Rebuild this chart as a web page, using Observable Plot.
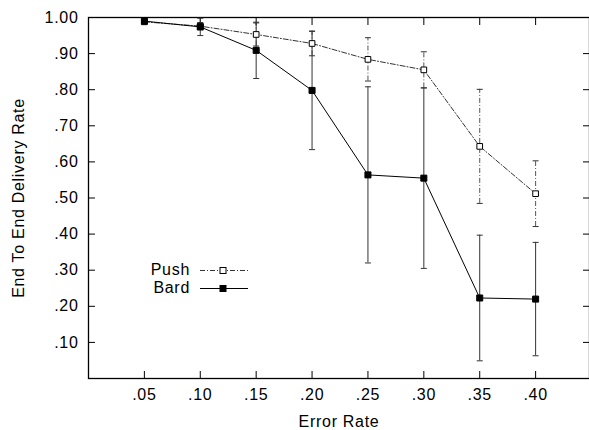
<!DOCTYPE html>
<html>
<head>
<meta charset="utf-8">
<script src="https://cdn.jsdelivr.net/npm/d3@7"></script>
<script src="https://cdn.jsdelivr.net/npm/@observablehq/plot@0.6"></script>
<style>
  html, body { margin: 0; padding: 0; background: #fff; }
  #wrap { position: relative; width: 589px; height: 430px; font-family: "Liberation Sans", Arial, Helvetica, sans-serif; }
  #legend { position: absolute; left: 0; top: 0; width: 589px; height: 430px; pointer-events: none; }
  .lg { position: absolute; left: 0; width: 190px; text-align: right; font-size: 16px; letter-spacing: 0.7px; color: #000; line-height: 18px; }
  #wrap svg text { letter-spacing: 0.7px; }
</style>
</head>
<body>
<div id="wrap"></div>
<script>
const errorRates = [0.05, 0.10, 0.15, 0.20, 0.25, 0.30, 0.35, 0.40];
const pushRate   = [0.988, 0.976, 0.953, 0.928, 0.884, 0.855, 0.643, 0.512];
const pushErr    = [0.004, 0.010, 0.032, 0.034, 0.060, 0.050, 0.158, 0.091];
const bardRate   = [0.990, 0.974, 0.909, 0.798, 0.564, 0.555, 0.223, 0.220];
const bardErr    = [0.005, 0.024, 0.078, 0.164, 0.244, 0.250, 0.174, 0.157];
const xTicks = [0.05, 0.10, 0.15, 0.20, 0.25, 0.30, 0.35, 0.40];
const yTicks = [0.10, 0.20, 0.30, 0.40, 0.50, 0.60, 0.70, 0.80, 0.90, 1.00];
const seriesNames = ["Push", "Bard"];

const push = errorRates.map((x, i) => ({x, y: pushRate[i], lo: pushRate[i] - pushErr[i], hi: pushRate[i] + pushErr[i]}));
const bard = errorRates.map((x, i) => ({x, y: bardRate[i], lo: bardRate[i] - bardErr[i], hi: bardRate[i] + bardErr[i]}));
const pushCaps = push.flatMap(d => [{x: d.x, y: d.lo}, {x: d.x, y: d.hi}]);
const bardCaps = bard.flatMap(d => [{x: d.x, y: d.lo}, {x: d.x, y: d.hi}]);

const cap = {draw(ctx) { ctx.moveTo(-3, 0); ctx.lineTo(3, 0); }};
const dashDot = "5,2,1,2";
const fmtY = d => d === 1 ? "1.00" : d3.format(".2f")(d).replace(/^0/, "");
const fmtX = d => d3.format(".2f")(d).replace(/^0/, "");
const FS = 16;

const chart = Plot.plot({
  width: 589,
  height: 430,
  marginLeft: 88,
  marginTop: 17,
  marginBottom: 52,
  marginRight: 0,
  style: {fontFamily: '"Liberation Sans", Arial, Helvetica, sans-serif', fontSize: FS + "px", color: "#000", background: "#fff", overflow: "visible"},
  x: {domain: [0, 0.45], range: [88, 591], axis: null},
  y: {domain: [0, 1], axis: null},
  marks: [
    Plot.frame({stroke: "#000", strokeWidth: 1.3}),
    // tick labels
    Plot.axisX(xTicks, {anchor: "bottom", tickSize: 0, tickPadding: 10, tickFormat: fmtX, fontSize: FS, label: null}),
    Plot.axisY(yTicks, {anchor: "left", tickSize: 0, tickPadding: 10, tickFormat: fmtY, fontSize: FS, label: null}),
    // inward ticks on all four sides
    Plot.axisX(xTicks, {anchor: "bottom", tickSize: -7, fill: "none", stroke: "#000", label: null}),
    Plot.axisX(xTicks, {anchor: "top", tickSize: -7, fill: "none", stroke: "#000", label: null}),
    Plot.axisY(yTicks, {anchor: "left", tickSize: -7, fill: "none", stroke: "#000", label: null}),
    Plot.axisY(yTicks, {anchor: "right", tickSize: -7, fill: "none", stroke: "#000", label: null}),
    // axis titles
    Plot.text(["Error Rate"], {frameAnchor: "bottom", text: d => d, dy: 48, fontSize: FS}),
    Plot.text(["End To End Delivery Rate"], {frameAnchor: "left", text: d => d, rotate: -90, textAnchor: "middle", dx: -70, fontSize: FS}),
    // error bars
    Plot.ruleX(push, {x: "x", y1: "lo", y2: "hi", stroke: "#555", strokeWidth: 1, strokeDasharray: dashDot}),
    Plot.dot(pushCaps, {x: "x", y: "y", symbol: cap, fill: "none", stroke: "#333", strokeWidth: 1}),
    Plot.ruleX(bard, {x: "x", y1: "lo", y2: "hi", stroke: "#333", strokeWidth: 1}),
    Plot.dot(bardCaps, {x: "x", y: "y", symbol: cap, fill: "none", stroke: "#333", strokeWidth: 1}),
    // lines
    Plot.line(push, {x: "x", y: "y", stroke: "#333", strokeWidth: 1, strokeDasharray: dashDot}),
    Plot.line(bard, {x: "x", y: "y", stroke: "#000", strokeWidth: 1}),
    // markers
    Plot.dot(push, {x: "x", y: "y", symbol: "square", r: 3.2, fill: "#fff", stroke: "#000", strokeWidth: 1}),
    Plot.dot(bard, {x: "x", y: "y", symbol: "square", r: 3.4, fill: "#000", stroke: "#000", strokeWidth: 1})
  ]
});

const wrap = document.getElementById("wrap");
wrap.appendChild(chart);

// in-plot legend (HTML overlay)
const legend = document.createElement("div");
legend.id = "legend";
const rows = [
  {name: seriesNames[0], top: 261, fill: "#fff", stroke: "#333", dash: dashDot},
  {name: seriesNames[1], top: 279, fill: "#000", stroke: "#000", dash: null}
];
rows.forEach(r => {
  const t = document.createElement("div");
  t.className = "lg";
  t.textContent = r.name;
  t.style.top = r.top + "px";
  legend.appendChild(t);
  const s = document.createElementNS("http://www.w3.org/2000/svg", "svg");
  s.setAttribute("width", "50");
  s.setAttribute("height", "18");
  s.style.position = "absolute";
  s.style.left = "199px";
  s.style.top = r.top + "px";
  s.innerHTML = `<line x1="1" x2="49" y1="9.5" y2="9.5" stroke="${r.stroke}" stroke-width="1" ${r.dash ? `stroke-dasharray="${r.dash}"` : ""}/>` +
    `<rect x="21" y="6.5" width="6" height="6" fill="${r.fill}" stroke="#000" stroke-width="1"/>`;
  legend.appendChild(s);
});
wrap.appendChild(legend);
</script>
</body>
</html>
